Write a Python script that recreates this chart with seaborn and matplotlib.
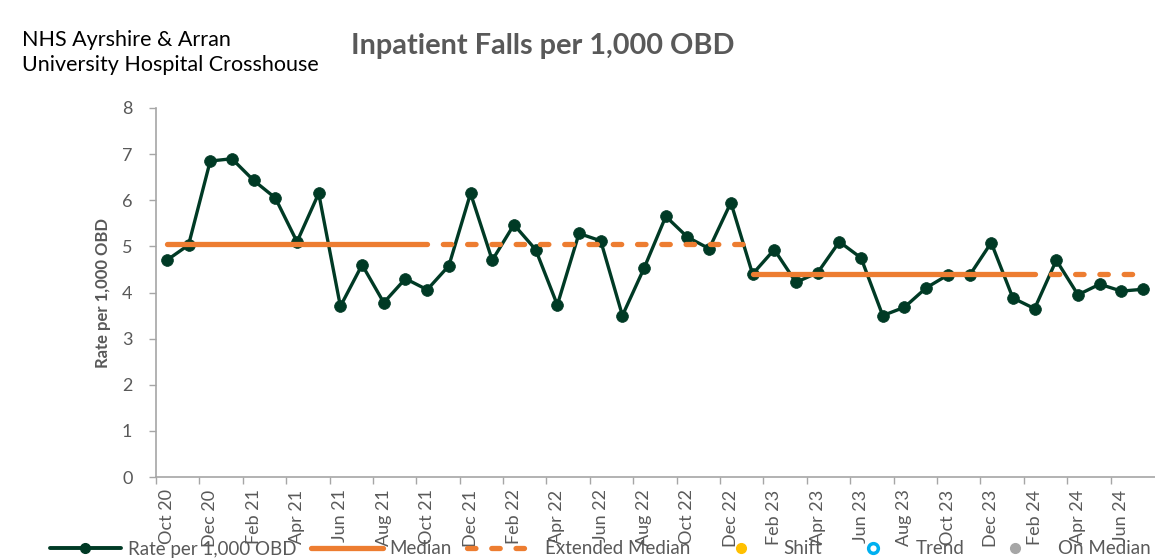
import matplotlib
matplotlib.use("Agg")
import matplotlib.pyplot as plt
import seaborn as sns
import pandas as pd
from matplotlib.lines import Line2D

# ---------------- data ----------------
months = ["Oct 20", "Nov 20", "Dec 20", "Jan 21", "Feb 21", "Mar 21", "Apr 21", "May 21",
          "Jun 21", "Jul 21", "Aug 21", "Sep 21", "Oct 21", "Nov 21", "Dec 21", "Jan 22",
          "Feb 22", "Mar 22", "Apr 22", "May 22", "Jun 22", "Jul 22", "Aug 22", "Sep 22",
          "Oct 22", "Nov 22", "Dec 22", "Jan 23", "Feb 23", "Mar 23", "Apr 23", "May 23",
          "Jun 23", "Jul 23", "Aug 23", "Sep 23", "Oct 23", "Nov 23", "Dec 23", "Jan 24",
          "Feb 24", "Mar 24", "Apr 24", "May 24", "Jun 24", "Jul 24"]
rates = [4.70, 5.03, 6.85, 6.90, 6.43, 6.05, 5.10, 6.15,
         3.70, 4.60, 3.78, 4.30, 4.06, 4.58, 6.15, 4.70,
         5.47, 4.93, 3.73, 5.28, 5.12, 3.50, 4.53, 5.65,
         5.20, 4.95, 5.95, 4.40, 4.93, 4.22, 4.43, 5.10,
         4.75, 3.50, 3.68, 4.10, 4.38, 4.37, 5.08, 3.88,
         3.65, 4.70, 3.95, 4.18, 4.03, 4.07]
median_level = [5.06, 4.40]
median_start = [0, 27]
median_end = [12, 40]
extended_end = [27, 45]
shift_points = []
trend_points = []
on_median_points = []
y_ticks = [0, 1, 2, 3, 4, 5, 6, 7, 8]

GREEN = "#003A25"
ORANGE = "#ED7D31"
GREY_TXT = "#595959"
AX_GREY = "#A6A6A6"

# ---------------- style ----------------
sns.set_theme(style="white")
plt.rcParams['font.family'] = ['Lato', 'DejaVu Sans']

fig = plt.figure(figsize=(11.55, 5.6), dpi=100)
ax = fig.add_axes([156 / 1155, 1 - 477 / 560, 1 - 156 / 1155, (477 - 108) / 560])

df = pd.DataFrame({"idx": list(range(len(months))), "rate": rates})
sns.lineplot(data=df, x="idx", y="rate", ax=ax, color=GREEN, lw=2.4, marker="o",
             markersize=8.5, markeredgecolor=GREEN, markeredgewidth=0.5, zorder=3)

for lvl, s, e, xe in zip(median_level, median_start, median_end, extended_end):
    sns.lineplot(x=[s, e], y=[lvl, lvl], ax=ax, color=ORANGE, lw=3.8,
                 solid_capstyle="round", zorder=4)
    sns.lineplot(x=[e, xe], y=[lvl, lvl], ax=ax, color=ORANGE, lw=3.8,
                 linestyle=(1.6, (1.6, 3.0)), dash_capstyle="round", zorder=4)

if shift_points:
    ax.scatter([p[0] for p in shift_points], [p[1] for p in shift_points], color="#FFC000", zorder=5)

ax.set_xlim(-0.5, len(months) - 0.45)
ax.set_ylim(0, 8)
ax.set_yticks(y_ticks)
ax.set_yticklabels([str(v) for v in y_ticks], fontsize=13, color=GREY_TXT)
ax.set_xticks(list(range(0, len(months), 2)))
ax.set_xticklabels(months[::2], rotation=90, fontsize=13, color=GREY_TXT)
ax.set_xticks([i - 0.5 for i in range(0, len(months), 2)], minor=True)
ax.tick_params(axis="x", which="major", length=0, pad=9)
ax.tick_params(axis="x", which="minor", length=5, color=AX_GREY, width=1, direction="out", bottom=True)
ax.tick_params(axis="y", length=5, color=AX_GREY, width=1, direction="out", left=True, pad=12)
ax.set_xlabel("")
ax.set_ylabel("Rate per 1,000 OBD", fontsize=12, fontweight="bold", color=GREY_TXT, labelpad=8)

for sp in ["top", "right"]:
    ax.spines[sp].set_visible(False)
for sp in ["left", "bottom"]:
    ax.spines[sp].set_color(AX_GREY)
    ax.spines[sp].set_linewidth(1.2)

# ---------------- texts ----------------
fig.text(22 / 1155, 1 - 40 / 560, "NHS Ayrshire & Arran", fontsize=15.5, color="black", va="center", ha="left")
fig.text(22 / 1155, 1 - 65 / 560, "University Hospital Crosshouse", fontsize=15.5, color="black", va="center", ha="left")
fig.text(543 / 1155, 1 - 46 / 560, "Inpatient Falls per 1,000 OBD", fontsize=20.8, fontweight="bold",
         color=GREY_TXT, va="center", ha="center")

# ---------------- legend ----------------
handles = [
    Line2D([], [], color=GREEN, lw=2.8, marker="o", markersize=7),
    Line2D([], [], color=ORANGE, lw=3.8, solid_capstyle="round"),
    Line2D([], [], color=ORANGE, lw=3.8, linestyle=(0, (1.6, 3.0)), dash_capstyle="round"),
    Line2D([], [], color="#FFC000", lw=0, marker="o", markersize=7),
    Line2D([], [], color="#00B0F0", lw=0, marker="o", markersize=7, markerfacecolor="white", markeredgewidth=2.5),
    Line2D([], [], color="#A6A6A6", lw=0, marker="o", markersize=7),
]
labels = ["Rate per 1,000 OBD", "Median", "Extended Median", "Shift", "Trend", "On Median"]
leg = fig.legend(handles, labels, loc="center", bbox_to_anchor=(600 / 1155, 1 - 549 / 560), ncol=6,
                 frameon=False, fontsize=13.5, handlelength=3.8, columnspacing=0.8, handletextpad=0.37)
for t in leg.get_texts():
    t.set_color(GREY_TXT)

fig.savefig("out.png", dpi=100)
